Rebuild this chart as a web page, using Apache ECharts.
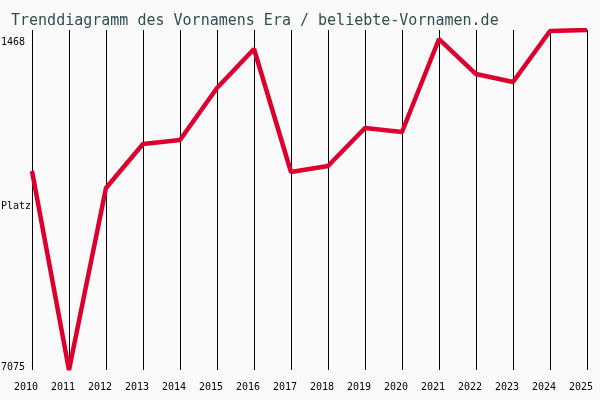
<!DOCTYPE html>
<html>
<head>
<meta charset="utf-8">
<script src="https://cdn.jsdelivr.net/npm/echarts@6/dist/echarts.min.js"></script>
<style>
  html, body { margin: 0; padding: 0; background: #fafafa; }
  #chart { width: 600px; height: 400px; }
</style>
</head>
<body>
<div id="chart"></div>
<script>
  // Jahre und Platzierungen (Rang, kleiner = beliebter)
  const years = ['2010', '2011', '2012', '2013', '2014', '2015', '2016', '2017',
                 '2018', '2019', '2020', '2021', '2022', '2023', '2024', '2025']
  const ranks = [3793, 7075, 4074, 3348, 3282, 2424, 1781, 3810,
                 3711, 3084, 3150, 1617, 2194, 2325, 1485, 1468]
  const rankBest = 1468
  const rankWorst = 7075
  const yTitle = 'Platz'

  const chart = echarts.init(document.getElementById('chart'))
  const mono = 'DejaVu Sans Mono'

  chart.setOption({
    backgroundColor: '#fafafa',
    animation: false,
    title: {
      text: 'Trenddiagramm des Vornamens Era / beliebte-Vornamen.de',
      left: 6,
      top: 9,
      textStyle: {
        color: '#2f4f4f',
        fontFamily: mono,
        fontSize: 15,
        fontWeight: 'normal'
      }
    },
    // "Platz" links in der Mitte
    graphic: [{
      type: 'text',
      left: 1,
      top: 201,
      style: {
        text: yTitle,
        fill: '#000',
        font: '10px ' + mono
      }
    }],
    grid: {
      left: 32,
      right: 13,
      top: 30,
      bottom: 30,
      containLabel: false,
      outerBoundsMode: 'none'
    },
    xAxis: {
      type: 'category',
      data: years,
      boundaryGap: false,
      axisLine: { show: false },
      axisTick: { show: false },
      splitLine: {
        show: true,
        lineStyle: { color: '#000', width: 1 }
      },
      axisLabel: {
        color: '#000',
        fontFamily: mono,
        fontSize: 10,
        margin: 12,
        padding: [0, 12, 0, 0],
        interval: 0
      }
    },
    yAxis: {
      type: 'value',
      inverse: true,
      min: rankBest,
      max: rankWorst,
      interval: rankWorst - rankBest,
      axisLine: { show: false },
      axisTick: { show: false },
      splitLine: { show: false },
      axisLabel: {
        color: '#000',
        fontFamily: mono,
        fontSize: 10,
        margin: 7,
        formatter: function (v) {
          return v === rankBest ? '{t|' + v + '}' : '{b|' + v + '}'
        },
        rich: {
          t: { fontFamily: mono, fontSize: 10, color: '#000', padding: [24, 0, 0, 0] },
          b: { fontFamily: mono, fontSize: 10, color: '#000', padding: [0, 0, 6, 0] }
        }
      }
    },
    series: [{
      type: 'line',
      data: ranks,
      symbol: 'none',
      lineStyle: { color: '#dc002e', width: 4.5 }
    }]
  })
</script>
</body>
</html>
